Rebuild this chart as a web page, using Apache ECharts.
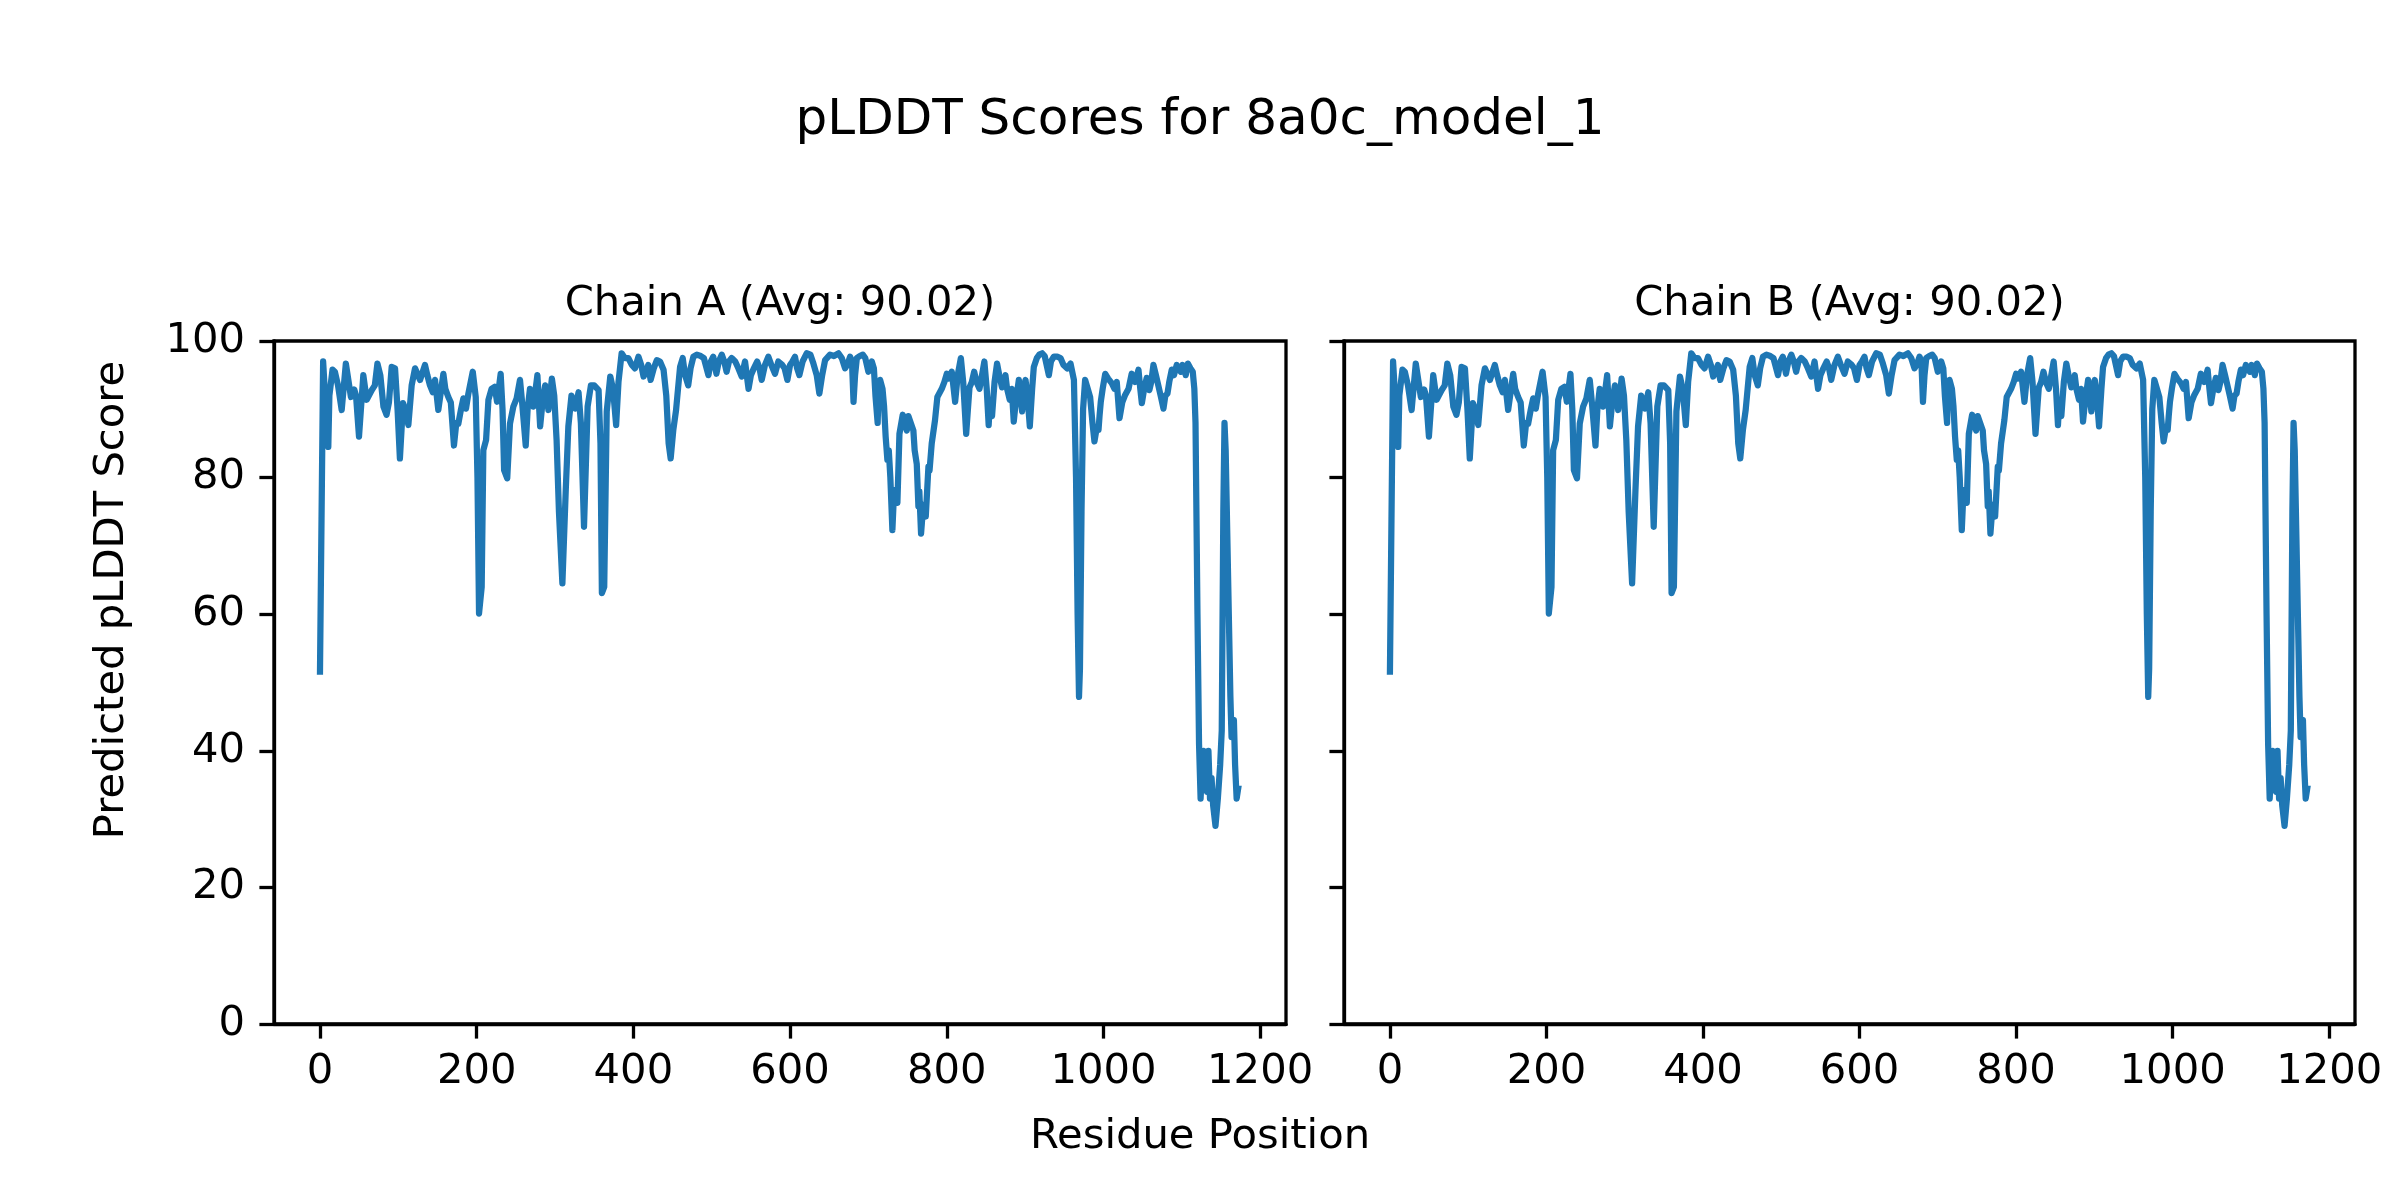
<!DOCTYPE html>
<html>
<head>
<meta charset="utf-8">
<script src="https://cdn.jsdelivr.net/npm/echarts@6/dist/echarts.min.js"></script>
<style>
html,body{margin:0;padding:0;background:#fff;}
#chart{width:2400px;height:1200px;}
</style>
</head>
<body>
<div id="chart"></div>
<script>
// ---- data ----
const residues = [0,4,6,8,10.6,12,16,19,23,27.7,33,39.5,43.7,46,49.8,55.3,59.6,66,70,73.3,77,81,85,88,91.5,95.8,99,102,106,109,112.8,117,121.3,127.7,134,137,140.4,144,146.8,149,151,157.5,160,163.8,167,171,174,176.6,180,183,186.4,189.4,195,198.8,201,203,206.4,208.5,212,215,219,223,226,230.6,233,235,239,242.5,246.8,251,255.3,258,262.6,265,268,272.4,277.5,281,284,287.4,291.6,296,299,302,305,309.4,313.7,317,321,326,330,333,337,341.6,345.8,350,355.6,358,359.8,362.8,366,370.5,374,378,381,385,389,393.6,398,402,406.5,410,413,416,419,422,426,430,434,438.5,442,445,447.6,451,454.5,457,459.6,463,466,470,473,476.6,481,486,490,495.8,499,502,506,509,512.8,516,519,522,525.5,530,534,538.3,542.5,547,550,553,558,561,563.8,568,572.3,576,580.8,585,590,593,596.6,600,603,606.3,609,611.9,616,621.2,626,629.8,634,637.4,641,644.7,651,656,661.7,666,670.2,673,676.6,679,681,683,685.2,689,692.8,696,700,704.3,707,709,711.8,713,715,718,720,722,724.2,726,728,730.6,732,734,737,739.6,743.8,746,749,751,753.2,757.4,759,761.7,763.8,765,767.2,770,773.2,776.6,778,780.8,785,788,793.6,797,800,803,806.4,810.7,814,818,821,824.8,827,829,832,835,838,841.8,845,848,851,853.5,855,857.8,861,864.2,867,870.6,872,874.9,877,880.4,883,885.5,888,892,894,896.2,898,900.5,903,906,909,911.1,915,918,921.8,925,930.3,933,936.7,941,945.2,949,953.8,958,962.3,965,967,968.8,970,972,974,976.6,980,983,986,988.5,991,993.7,995,996.6,999,1002.3,1006,1010.8,1014,1017,1020.5,1024,1027.7,1032,1036,1040.5,1044.7,1047,1049,1052,1055.2,1058.6,1061,1063.8,1067,1070,1073,1076.6,1079,1081.7,1084,1087.2,1090,1093.6,1096,1098.7,1101,1103,1105,1107.7,1111,1114,1116,1117.5,1120,1122,1124,1126,1128,1130,1132,1134,1136,1138,1140,1143,1146,1149,1151,1153,1154.5,1156,1158,1160,1162,1163.5,1165,1166.5,1168,1170,1172];
const chainAScores = [51.6,97.0,93,88,84.5,92,95.8,95.5,93.5,89.9,96.7,91.8,92.9,92,86.0,95.0,91.4,92.8,93.5,96.7,95,90.4,89.2,91,96.2,96.0,90,82.8,90.9,90,87.7,93.5,96.0,94.3,96.5,95,93.5,92.5,94.3,92,89.9,95.2,93,91.8,91,84.7,88,87.9,90,91.6,90.1,92.3,95.5,91.8,80,60.1,64.0,84.0,85.5,91.4,93.0,93.3,91.1,95.2,90,81.1,79.9,87.9,90.4,91.6,94.3,91,84.7,90,93.0,90.4,95.0,87.5,91,93.5,89.9,94.5,92,85.5,75,64.5,78.2,87.5,92.0,90.1,92.5,88,72.8,90.4,93.5,93.5,92.8,85,63.1,64.0,89.7,94.8,93,87.7,94,98.2,97.5,97.5,96.5,96.0,97.7,96.5,94.8,95.5,96.5,94.3,96,97.2,97,95.8,92,85,82.8,87,89.9,93,96.2,97.5,95,93.5,96,97.7,98.0,97.8,97.5,95.0,97,97.7,95.2,97,98.0,97,95.5,97,97.5,97,96,94.8,97.0,93.0,95,95.8,97.0,96,94.3,96.5,97.7,96.5,95.2,97.0,96.5,96,94.3,96.5,97,97.7,96,95.0,97,98.2,98,96.7,95,92.3,95,97.2,98.0,97.8,98.2,97.5,96.0,96.5,97.7,97,91.1,95,97.5,97.8,98.0,97.5,95.5,97.0,96,92,88.0,93,94.3,93,90.4,86,82.6,84,80,72.3,76,78.2,76.3,86.4,89.2,88,86.9,89,89.2,86.9,84,82.0,75.8,78,71.8,76,74.3,81.6,81,85.0,88.4,91.8,93.0,94,95.2,94.5,95.5,91.1,95,97.5,94,86.4,90,93.2,94,95.5,94,93.0,95,97.0,93,87.7,91,89.0,94,96.7,95,93.2,94,95.0,93,91.4,93,88.2,91,94.3,92,89.7,93,94.3,92,87.5,93,96.2,97.5,98,98.2,97.8,95.0,97,97.7,97.7,97.5,96.5,96.0,96.7,94.3,80,60,47.9,52,75,90,94.3,93,91.8,88,85.3,87,87.0,89,91.1,93,95.2,94.5,93.8,93,94.0,88.7,91,92.1,93,95.2,94.0,95.8,93,90.9,93,94.6,92.8,94,96.5,95,93.5,92,90.1,92,92.3,94,95.8,95,96.5,96,95.5,96.5,96.2,95,96.7,96,95.5,93,88,60,41,33,38,40,35,34,40,33,36,32,29,33,38,43,75,88,84,72,60,48,42,44,44.5,38,33,34.5];
const chainBScores = chainAScores.slice();
const xTicks = [0,200,400,600,800,1000,1200];
const yTicks = [0,20,40,60,80,100];
const titleText = 'pLDDT Scores for 8a0c_model_1';
const chainTitles = ['Chain A (Avg: 90.02)','Chain B (Avg: 90.02)'];
const xLabel = 'Residue Position';
const yLabel = 'Predicted pLDDT Score';

// ---- chart ----
const chart = echarts.init(document.getElementById('chart'), null, {renderer:'canvas', width:2400, height:1200});
const FONT = '"DejaVu Sans", sans-serif';
const tickColor = '#000';
function mkX(idx){
  return {
    type:'value', gridIndex:idx, min:-58.7, max:1233,
    axisLine:{show:true, onZero:false, lineStyle:{color:'#000', width:3.3}},
    axisTick:{show:true, inside:false, length:14.6, lineStyle:{color:tickColor, width:3.3}, customValues:xTicks},
    axisLabel:{show:true, margin:27, fontFamily:FONT, fontSize:41.7, color:'#000', customValues:xTicks, formatter:function(v){return String(v);}},
    splitLine:{show:false}
  };
}
function mkY(idx, labels){
  return {
    type:'value', gridIndex:idx, min:0, max:100, interval:20,
    axisLine:{show:true, onZero:false, lineStyle:{color:'#000', width:3.3}},
    axisTick:{show:true, inside:false, length:14.6, lineStyle:{color:tickColor, width:3.3}, customValues:yTicks},
    axisLabel:{show:labels, margin:29, fontFamily:FONT, fontSize:41.7, color:'#000', customValues:yTicks, formatter:function(v){return String(v);}},
    splitLine:{show:false}
  };
}
const pairsA = residues.map((r,i)=>[r, chainAScores[i]]);
const pairsB = residues.map((r,i)=>[r, chainBScores[i]]);
const lineStyle = {color:'#1f77b4', width:6.25, join:'round', cap:'square'};

chart.setOption({
  animation:false,
  backgroundColor:'#fff',
  grid:[
    {left:274, top:341, width:1012, height:683, show:true, borderColor:'#000', borderWidth:3.3, backgroundColor:'transparent'},
    {left:1344, top:341, width:1011, height:683, show:true, borderColor:'#000', borderWidth:3.3, backgroundColor:'transparent'}
  ],
  xAxis:[mkX(0), mkX(1)],
  yAxis:[mkY(0,true), mkY(1,false)],
  series:[
    {type:'line', xAxisIndex:0, yAxisIndex:0, data:pairsA, showSymbol:false, symbol:'none', lineStyle:lineStyle, z:1},
    {type:'line', xAxisIndex:1, yAxisIndex:1, data:pairsB, showSymbol:false, symbol:'none', lineStyle:lineStyle, z:1}
  ],
  graphic:[
    {type:'text', x:1200, y:121, style:{text:titleText, fill:'#000', font:'50px '+FONT, textAlign:'center', textVerticalAlign:'middle'}},
    {type:'text', x:780, y:304, style:{text:chainTitles[0], fill:'#000', font:'41.7px '+FONT, textAlign:'center', textVerticalAlign:'middle'}},
    {type:'text', x:1849.5, y:304, style:{text:chainTitles[1], fill:'#000', font:'41.7px '+FONT, textAlign:'center', textVerticalAlign:'middle'}},
    {type:'text', x:1200, y:1137, style:{text:xLabel, fill:'#000', font:'41.7px '+FONT, textAlign:'center', textVerticalAlign:'middle'}},
    {type:'text', x:112, y:600, rotation:Math.PI/2, style:{text:yLabel, fill:'#000', font:'41.7px '+FONT, textAlign:'center', textVerticalAlign:'middle'}}
  ]
});
</script>
</body>
</html>
